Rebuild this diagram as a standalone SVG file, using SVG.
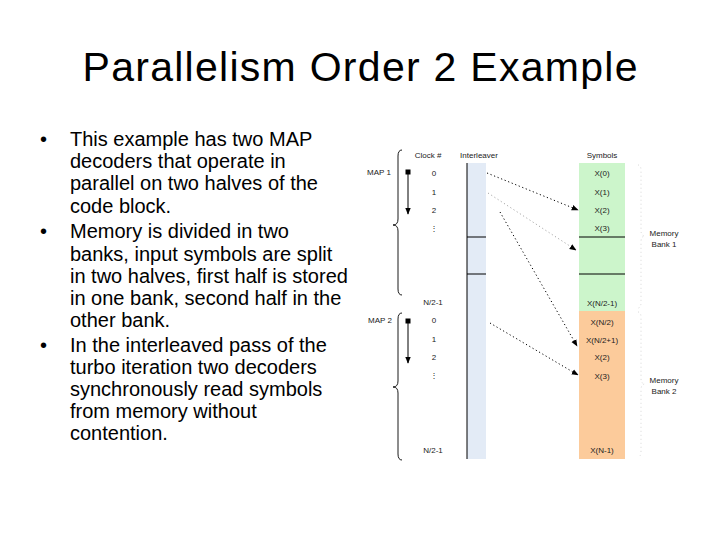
<svg xmlns="http://www.w3.org/2000/svg" width="720" height="540" viewBox="0 0 720 540">
<style>
.title{font-family:"Liberation Sans",Arial,sans-serif;font-size:41px;fill:#000}
.body{font-family:"Liberation Sans",Arial,sans-serif;font-size:20px;fill:#000}
.sm{font-family:"Liberation Sans",Arial,sans-serif;font-size:8px;fill:#222}
.c{text-anchor:middle}
.rule{stroke:#000;stroke-width:1}
.brace{fill:none;stroke:#000;stroke-width:0.9}
.fbrace{fill:none;stroke:#ccc;stroke-width:0.8;stroke-dasharray:1 3}
.dot{fill:none;stroke:#000;stroke-width:1;stroke-dasharray:1.2 2.6}
.solid{fill:none;stroke:#000;stroke-width:1}
</style>
<defs>
<marker id="ah" viewBox="0 0 10 10" refX="9" refY="5" markerWidth="7" markerHeight="7" orient="auto" markerUnits="userSpaceOnUse">
<path d="M0,1 L10,5 L0,9 z" fill="#000"/>
</marker>
</defs>
<rect width="720" height="540" fill="#fff"/>

<text class="title c" x="360" y="81" textLength="555">Parallelism Order 2 Example</text>

<g id="bullets">
<text class="body" x="40" y="146">•</text>
<text class="body" x="70" y="146">This example has two MAP</text>
<text class="body" x="70" y="168">decoders that operate in</text>
<text class="body" x="70" y="190">parallel on two halves of the</text>
<text class="body" x="70" y="212.5">code block.</text>
<text class="body" x="40" y="238">•</text>
<text class="body" x="70" y="238">Memory is divided in two</text>
<text class="body" x="70" y="260.5">banks, input symbols are split</text>
<text class="body" x="70" y="282.5">in two halves, first half is stored</text>
<text class="body" x="70" y="305">in one bank, second half in the</text>
<text class="body" x="70" y="327">other bank.</text>
<text class="body" x="40" y="351.5">•</text>
<text class="body" x="70" y="351.5">In the interleaved pass of the</text>
<text class="body" x="70" y="373.5">turbo iteration two decoders</text>
<text class="body" x="70" y="395.5">synchronously read symbols</text>
<text class="body" x="70" y="417.5">from memory without</text>
<text class="body" x="70" y="439.5">contention.</text>
</g>

<g id="headers">
<text class="sm c" x="428" y="158">Clock #</text>
<text class="sm c" x="479" y="158">Interleaver</text>
<text class="sm c" x="602" y="158">Symbols</text>
</g>

<g id="interleaver">
<rect x="467" y="163" width="19" height="296" fill="#e3ebf6"/>
<line class="rule" x1="467" y1="163" x2="467" y2="459"/>
<line class="rule" x1="467" y1="237" x2="486" y2="237"/>
<line class="rule" x1="467" y1="274" x2="486" y2="274"/>
</g>

<g id="bank1">
<rect x="579" y="163" width="46" height="148" fill="#ccf5cb"/>
<line class="rule" x1="579" y1="237" x2="625" y2="237"/>
<line class="rule" x1="579" y1="274" x2="625" y2="274"/>
<text class="sm c" x="602" y="176">X(0)</text>
<text class="sm c" x="602" y="195">X(1)</text>
<text class="sm c" x="602" y="213">X(2)</text>
<text class="sm c" x="602" y="231">X(3)</text>
<text class="sm c" x="602" y="306">X(N/2-1)</text>
<path class="fbrace" d="M638,165 Q641,165 641,171 L641,230 Q641,236 645,236 Q641,236 641,242 L641,302 Q641,308 638,308"/>
<text class="sm c" x="664" y="236">Memory</text>
<text class="sm c" x="664" y="247">Bank 1</text>
</g>

<g id="bank2">
<rect x="579" y="311" width="46" height="148" fill="#fccb9b"/>
<text class="sm c" x="602" y="325">X(N/2)</text>
<text class="sm c" x="602" y="343">X(N/2+1)</text>
<text class="sm c" x="602" y="360">X(2)</text>
<text class="sm c" x="602" y="379">X(3)</text>
<text class="sm c" x="602" y="453">X(N-1)</text>
<path class="fbrace" d="M638,312 Q641,312 641,318 L641,378 Q641,384 645,384 Q641,384 641,390 L641,451 Q641,457 638,457"/>
<text class="sm c" x="664" y="383">Memory</text>
<text class="sm c" x="664" y="393.5">Bank 2</text>
</g>

<g id="map1">
<text class="sm" x="367" y="175">MAP 1</text>
<path class="brace" d="M402,150 Q398,150 398,156 L398,219 Q398,225 393,225 Q398,225 398,231 L398,289 Q398,295 402,295"/>
<text class="sm c" x="434" y="175.5">0</text>
<text class="sm c" x="434" y="194.5">1</text>
<text class="sm c" x="434" y="212.5">2</text>
<text class="sm c" x="434" y="231">⋮</text>
<text class="sm c" x="433" y="305">N/2-1</text>
</g>

<g id="map2">
<text class="sm" x="368" y="323">MAP 2</text>
<path class="brace" d="M402,313 Q398,313 398,319 L398,381 Q398,387 393,387 Q398,387 398,393 L398,454 Q398,460 402,460"/>
<text class="sm c" x="434" y="323">0</text>
<text class="sm c" x="434" y="342">1</text>
<text class="sm c" x="434" y="360">2</text>
<text class="sm c" x="434" y="378">⋮</text>
<text class="sm c" x="433" y="453">N/2-1</text>
</g>

<g id="connectors">
<rect x="405.5" y="169.5" width="5" height="5" fill="#000"/>
<line class="solid" x1="408" y1="172" x2="408" y2="214" marker-end="url(#ah)"/>
<rect x="405.5" y="318.5" width="5" height="5" fill="#000"/>
<line class="solid" x1="408" y1="321" x2="408" y2="363" marker-end="url(#ah)"/>
<line class="dot" x1="487" y1="173" x2="578" y2="210" marker-end="url(#ah)"/>
<line class="dot" x1="488" y1="193" x2="576" y2="250" marker-end="url(#ah)" stroke-opacity="0.35"/>
<line class="dot" x1="500" y1="212" x2="577" y2="346" marker-end="url(#ah)"/>
<line class="dot" x1="490" y1="323" x2="578" y2="375" marker-end="url(#ah)"/>
</g>
</svg>
